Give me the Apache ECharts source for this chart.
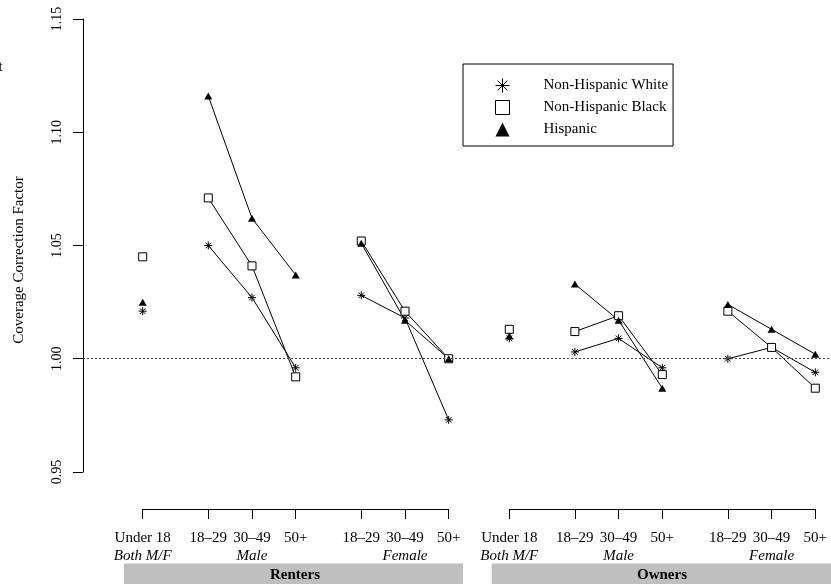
<!DOCTYPE html>
<html>
<head>
<meta charset="utf-8">
<script src="https://cdn.jsdelivr.net/npm/echarts@6/dist/echarts.min.js"></script>
<style>
html,body{margin:0;padding:0;background:#fff;}
#chart{width:831px;height:584px;}
</style>
</head>
<body>
<div id="chart"></div>
<script>
// ---- data ----
const xPositions = [0, 1.5, 2.5, 3.5, 5, 6, 7];
const ageLabels = ['Under 18', '18–29', '30–49', '50+', '18–29', '30–49', '50+'];
const subLabels = ['Both M/F', '', 'Male', '', '', 'Female', ''];
const groupNames = ['Renters', 'Owners'];
const raceNames = ['Non-Hispanic White', 'Non-Hispanic Black', 'Hispanic'];
const yTicks = [0.95, 1.00, 1.05, 1.10, 1.15];
const referenceValue = 1.00;

const rentersWhite    = [1.021, 1.050, 1.027, 0.996, 1.028, 1.018, 0.973];
const rentersBlack    = [1.045, 1.071, 1.041, 0.992, 1.052, 1.021, 1.000];
const rentersHispanic = [1.025, 1.116, 1.062, 1.037, 1.051, 1.017, 1.000];
const ownersWhite     = [1.009, 1.003, 1.009, 0.996, 1.000, 1.005, 0.994];
const ownersBlack     = [1.013, 1.012, 1.019, 0.993, 1.021, 1.005, 0.987];
const ownersHispanic  = [1.010, 1.033, 1.017, 0.987, 1.024, 1.013, 1.002];

// ---- styles ----
const FONT = 'Liberation Serif';
const STAR = 'path://M0,5L10,5M5,0L5,10M1.5,1.5L8.5,8.5M8.5,1.5L1.5,8.5';
const raceStyles = [
  { symbol: STAR, symbolSize: 8, itemStyle: { color: '#000', borderColor: '#000', borderWidth: 1 } },
  { symbol: 'rect', symbolSize: 8, itemStyle: { color: '#fff', borderColor: '#000', borderWidth: 1 } },
  { symbol: 'triangle', symbolSize: [8, 7], itemStyle: { color: '#000', borderColor: '#000', borderWidth: 0 } }
];

function buildSeries(gridIdx, raceIdx, values) {
  const pts = xPositions.map((x, i) => [x, values[i]]);
  const parts = [pts.slice(0, 1), pts.slice(1, 4), pts.slice(4, 7)];
  return parts.map(d => Object.assign({
    type: 'line',
    name: raceNames[raceIdx],
    xAxisIndex: gridIdx,
    yAxisIndex: gridIdx,
    data: d,
    showSymbol: true,
    showAllSymbol: true,
    lineStyle: { color: '#000', width: 1 },
    emphasis: { disabled: true },
    animation: false,
    z: 3
  }, raceStyles[raceIdx]));
}

const series = [];
[[rentersWhite, rentersBlack, rentersHispanic], [ownersWhite, ownersBlack, ownersHispanic]]
  .forEach((group, g) => group.forEach((vals, r) => series.push(...buildSeries(g, r, vals))));

series.push({
  type: 'line', xAxisIndex: 2, yAxisIndex: 2, data: [], silent: true, animation: false,
  markLine: {
    silent: true, symbol: ['none', 'none'], animation: false,
    label: { show: false },
    lineStyle: { color: '#444', type: [2, 2], width: 1 },
    emphasis: { disabled: true },
    data: [{ yAxis: referenceValue }]
  }
});

const TOP = 19, BOTTOM = 112;
const gridW = 306;
function xAxisFor(gridIndex) {
  return {
    type: 'value', gridIndex, min: 0, max: 7, position: 'bottom', offset: 37,
    splitLine: { show: false },
    axisLine: { show: true, lineStyle: { color: '#000', width: 1 } },
    axisTick: { show: true, customValues: xPositions, length: 10, inside: false, lineStyle: { color: '#000', width: 1 } },
    axisLabel: {
      show: true, customValues: xPositions, margin: 20, color: '#000',
      fontFamily: FONT, fontSize: 15,
      formatter: v => {
        const i = xPositions.indexOf(v);
        if (i < 0) return '';
        let s = '{a|' + ageLabels[i] + '}';
        if (subLabels[i]) s += '\n{b|' + subLabels[i] + '}';
        return s;
      },
      rich: {
        a: { fontFamily: FONT, fontSize: 15, lineHeight: 18, color: '#000' },
        b: { fontFamily: FONT, fontSize: 15, lineHeight: 18, fontStyle: 'italic', color: '#000' }
      }
    }
  };
}
function hiddenY(gridIndex) {
  return { type: 'value', gridIndex, min: 0.95, max: 1.15, show: false, splitLine: { show: false } };
}

const option = {
  backgroundColor: '#fff',
  animation: false,
  grid: [
    { left: 142.7, width: gridW, top: TOP, bottom: BOTTOM },
    { left: 509.3, width: gridW, top: TOP, bottom: BOTTOM },
    { left: 83, right: 0, top: TOP, bottom: BOTTOM }
  ],
  xAxis: [
    xAxisFor(0),
    xAxisFor(1),
    { type: 'value', gridIndex: 2, min: 0, max: 1, show: false }
  ],
  yAxis: [
    hiddenY(0),
    hiddenY(1),
    {
      type: 'value', gridIndex: 2, min: 0.95, max: 1.15, interval: 0.05,
      splitLine: { show: false },
      axisLine: { show: true, lineStyle: { color: '#000', width: 1 } },
      axisTick: { show: true, length: 10, lineStyle: { color: '#000', width: 1 } },
      axisLabel: {
        show: true, rotate: 90, margin: 19, color: '#000', fontFamily: FONT, fontSize: 14,
        formatter: v => {
          const m = yTicks.find(t => Math.abs(t - v) < 1e-6);
          return m === undefined ? '' : m.toFixed(2);
        }
      }
    }
  ],
  legend: {
    left: 463, top: 64, orient: 'vertical',
    borderColor: '#000', borderWidth: 1, borderRadius: 0,
    padding: [14, 5, 9, 32],
    itemWidth: 14, itemHeight: 14, itemGap: 7,
    selectedMode: false,
    textStyle: { fontFamily: FONT, fontSize: 15, color: '#000', lineHeight: 14, padding: [0, 0, 0, 29] },
    data: [
      { name: raceNames[0], icon: STAR, itemStyle: { color: '#000', borderColor: '#000', borderWidth: 1 } },
      { name: raceNames[1], icon: 'rect', itemStyle: { color: '#fff', borderColor: '#000', borderWidth: 1 } },
      { name: raceNames[2], icon: 'triangle', itemStyle: { color: '#000', borderColor: '#000', borderWidth: 0 } }
    ]
  },
  graphic: [
    { type: 'rect', shape: { x: 124, y: 563.5, width: 339, height: 30 }, style: { fill: '#bfbfbf' }, silent: true },
    { type: 'rect', shape: { x: 491.7, y: 563.5, width: 340, height: 30 }, style: { fill: '#bfbfbf' }, silent: true },
    { type: 'text', x: 295, y: 575.5, style: { text: groupNames[0], font: 'bold 15px "Liberation Serif"', fill: '#000', textAlign: 'center', textVerticalAlign: 'middle' }, silent: true },
    { type: 'text', x: 662, y: 575.5, style: { text: groupNames[1], font: 'bold 15px "Liberation Serif"', fill: '#000', textAlign: 'center', textVerticalAlign: 'middle' }, silent: true },
    { type: 'text', x: 19, y: 260, rotation: Math.PI / 2, style: { text: 'Coverage Correction Factor', font: '15px "Liberation Serif"', fill: '#000', textAlign: 'center', textVerticalAlign: 'middle' }, silent: true },
    { type: 'text', x: -1.5, y: 67.5, style: { text: 't', font: '15px "Liberation Serif"', fill: '#000', textAlign: 'left', textVerticalAlign: 'middle' }, silent: true }
  ],
  series
};

const chart = echarts.init(document.getElementById('chart'), null, { renderer: 'canvas' });
chart.setOption(option);
</script>
</body>
</html>
